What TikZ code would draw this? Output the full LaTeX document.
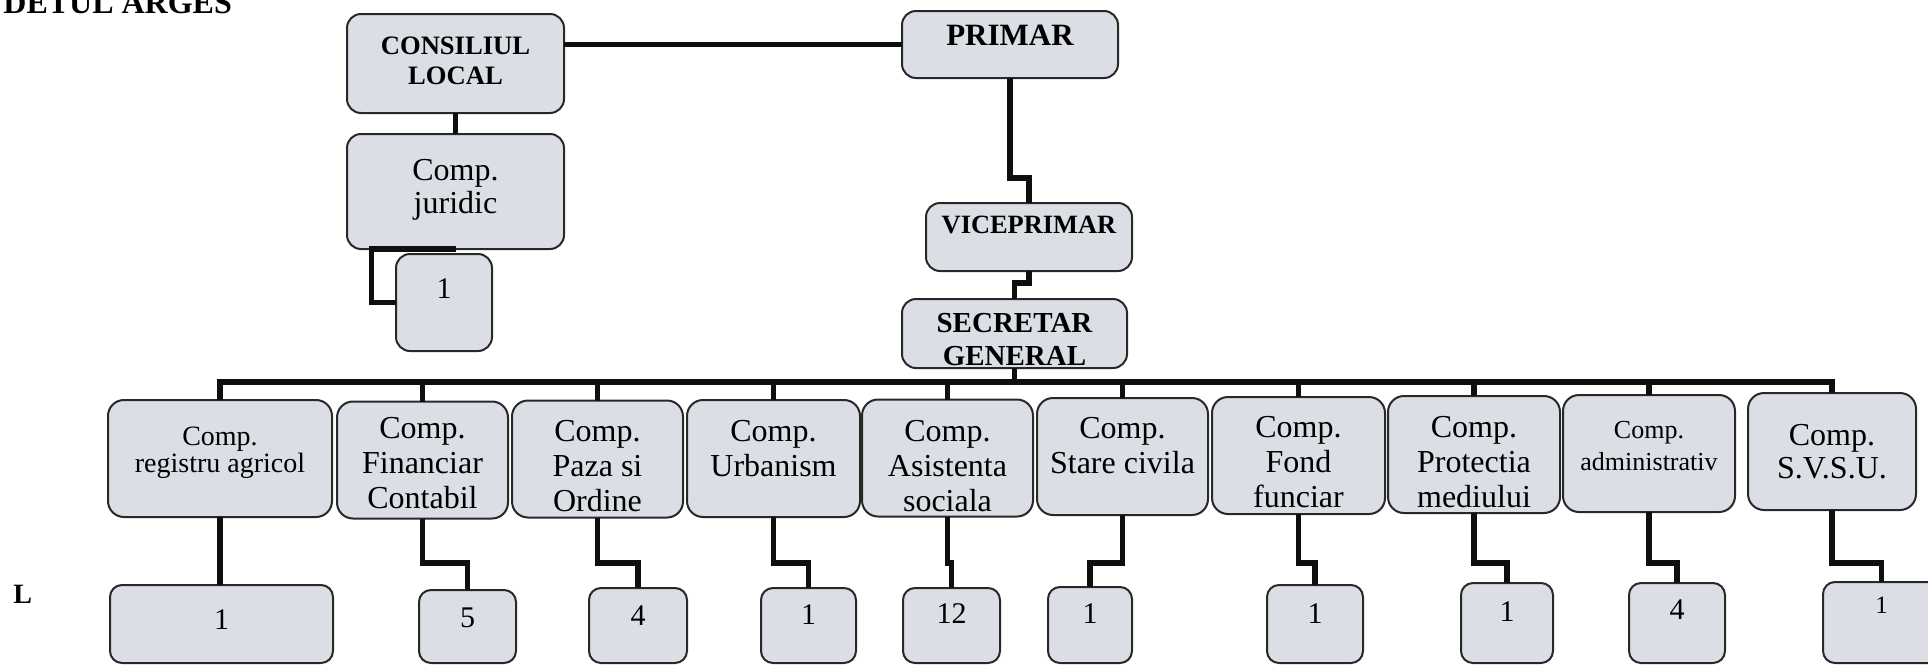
\documentclass[tikz,border=0pt]{standalone}
\usepackage{fontspec}
\setmainfont{Liberation Serif}
\definecolor{boxfill}{RGB}{220,222,230}
\definecolor{boxline}{RGB}{40,40,40}
\definecolor{wire}{RGB}{15,15,15}
% parbox of given width/height, text top-aligned, first baseline at #3 below top
\newcommand\tb[4]{\parbox[c][#2][t]{#1}{\centering\rule{0pt}{#3}#4}}
\begin{document}
\begin{tikzpicture}[x=0.5pt,y=-0.5pt,
  bx/.style={draw=boxline, line width=1pt, fill=boxfill, rounded corners=7pt, inner sep=0pt, outer sep=0pt},
  lvl/.style={bx, rounded corners=8pt, minimum height=58.5pt, font=\fontsize{16pt}{17.5pt}\selectfont},
  bot/.style={bx, rounded corners=6pt, font=\fontsize{15pt}{17pt}\selectfont},
  topb/.style={bx, font=\bfseries\fontsize{13.3pt}{15pt}\selectfont},
  conn/.style={draw=wire, line width=2.75pt}
]
\useasboundingbox (0,0) rectangle (1928,665);
\clip (0,0) rectangle (1928,665);
\fill[white] (0,0) rectangle (1928,665);

% texts outside boxes
\node[anchor=base west, inner sep=0pt, font=\bfseries\fontsize{16pt}{18pt}\selectfont] (title) at (3,13) {DETUL ARGES};
\node[anchor=base west, inner sep=0pt, font=\bfseries\fontsize{14pt}{16pt}\selectfont] (lbl) at (13,603) {L};

% top part
\node[topb, minimum width=108.5pt, minimum height=49.5pt] (cl) at (455.5,63.5) {\tb{104pt}{49.5pt}{20pt}{CONSILIUL\\LOCAL}};
\node[topb, minimum width=108pt, minimum height=33.5pt, font=\bfseries\fontsize{15.5pt}{17pt}\selectfont] (pri) at (1010,44.5) {\tb{104pt}{33.5pt}{17pt}{PRIMAR}};
\node[bx, minimum width=108.5pt, minimum height=57.5pt, font=\fontsize{16pt}{16.5pt}\selectfont] (jur) at (455.5,191.5) {\tb{104pt}{57.5pt}{23pt}{Comp.\\juridic}};
\node[bx, minimum width=48pt, minimum height=48.5pt, font=\fontsize{15pt}{17pt}\selectfont] (j1) at (444,302.5) {\tb{44pt}{48.5pt}{22pt}{1}};
\node[topb, minimum width=103pt, minimum height=34pt, font=\bfseries\fontsize{13.2pt}{15pt}\selectfont] (vice) at (1029,237) {\tb{100pt}{34pt}{15pt}{VICEPRIMAR}};
\node[topb, minimum width=112.5pt, minimum height=34.5pt, font=\bfseries\fontsize{14.5pt}{16.5pt}\selectfont] (sec) at (1014.5,333.5) {\tb{108pt}{34.5pt}{16.5pt}{SECRETAR\\GENERAL}};

% second level
\node[lvl, minimum width=112pt, font=\fontsize{14pt}{13.5pt}\selectfont] (f1) at (220,458.5) {\tb{110pt}{58.5pt}{22.5pt}{Comp.\\registru agricol}};
\node[lvl, minimum width=85.5pt] (f2) at (422.5,460) {\tb{83pt}{58.5pt}{18.5pt}{Comp.\\Financiar\\Contabil}};
\node[lvl, minimum width=85.5pt] (f3) at (597.5,459) {\tb{83pt}{58.5pt}{20.5pt}{Comp.\\Paza si\\Ordine}};
\node[lvl, minimum width=86.5pt] (f4) at (773.5,458.5) {\tb{84pt}{58.5pt}{20.5pt}{Comp.\\Urbanism}};
\node[lvl, minimum width=85.5pt] (f5) at (947.5,458) {\tb{83pt}{58.5pt}{21pt}{Comp.\\Asistenta\\sociala}};
\node[lvl, minimum width=85.5pt] (f6) at (1122.5,456.5) {\tb{83pt}{58.5pt}{20pt}{Comp.\\Stare civila}};
\node[lvl, minimum width=86.5pt] (f7) at (1298.5,455.5) {\tb{84pt}{58.5pt}{20pt}{Comp.\\Fond\\funciar}};
\node[lvl, minimum width=86pt] (f8) at (1474,454.5) {\tb{84pt}{58.5pt}{20.5pt}{Comp.\\Protectia\\mediului}};
\node[lvl, minimum width=86pt, font=\fontsize{13pt}{16pt}\selectfont] (f9) at (1649,453.5) {\tb{84pt}{58.5pt}{21.5pt}{Comp.\\administrativ}};
\node[lvl, minimum width=84pt, font=\fontsize{16pt}{16.5pt}\selectfont] (f10) at (1832,451.5) {\tb{82pt}{58.5pt}{26pt}{Comp.\\S.V.S.U.}};

% bottom level
\node[bot, minimum width=111.5pt, minimum height=39pt] (n1) at (221.5,624) {\tb{108pt}{39pt}{22pt}{1}};
\node[bot, minimum width=48.5pt, minimum height=36.5pt] (n2) at (467.5,626.5) {\tb{46pt}{36.5pt}{18.5pt}{5}};
\node[bot, minimum width=49pt, minimum height=37.5pt] (n3) at (638,625.5) {\tb{46pt}{37.5pt}{18.5pt}{4}};
\node[bot, minimum width=47.5pt, minimum height=37.5pt] (n4) at (808.5,625.5) {\tb{45pt}{37.5pt}{18pt}{1}};
\node[bot, minimum width=48.5pt, minimum height=37.5pt] (n5) at (951.5,625.5) {\tb{46pt}{37.5pt}{17.5pt}{12}};
\node[bot, minimum width=42pt, minimum height=38pt] (n6) at (1090,625) {\tb{40pt}{38pt}{18pt}{1}};
\node[bot, minimum width=48pt, minimum height=39pt] (n7) at (1315,624) {\tb{46pt}{39pt}{19pt}{1}};
\node[bot, minimum width=46pt, minimum height=40pt] (n8) at (1507,623) {\tb{44pt}{40pt}{19pt}{1}};
\node[bot, minimum width=48pt, minimum height=40pt] (n9) at (1677,623) {\tb{46pt}{40pt}{18pt}{4}};
\node[bot, minimum width=58.5pt, minimum height=40.5pt, font=\fontsize{12.5pt}{14pt}\selectfont] (n10) at (1881.5,622.5) {\tb{56pt}{40.5pt}{15.5pt}{1}};

% connectors
\draw[conn] (pri.west) -- (pri.west -| cl.east);
\draw[conn] (cl.south) -- (jur.north);
\draw[conn] (jur.south) -- ++(-84,0) |- (j1.west);
\draw[conn] (pri.south) -- ++(0,100) -| (vice.north);
\draw[conn] (vice.south) -- ++(0,12) -| (sec.north);
\coordinate (bus) at (0,382);
\coordinate (el) at (0,563);
\draw[conn] (sec.south) -- (sec.south |- bus);
\draw[conn] (f1.north) -- (f1.north |- bus) -- (f10.north |- bus) -- (f10.north);
\foreach \i in {2,...,9} {\draw[conn] (f\i.north) -- (f\i.north |- bus);}
\draw[conn] (f1.south) -- (f1.south |- n1.north);
\foreach \i in {2,...,10} {\draw[conn] (f\i.south) -- (f\i.south |- el) -| (n\i.north);}
\end{tikzpicture}
\end{document}
